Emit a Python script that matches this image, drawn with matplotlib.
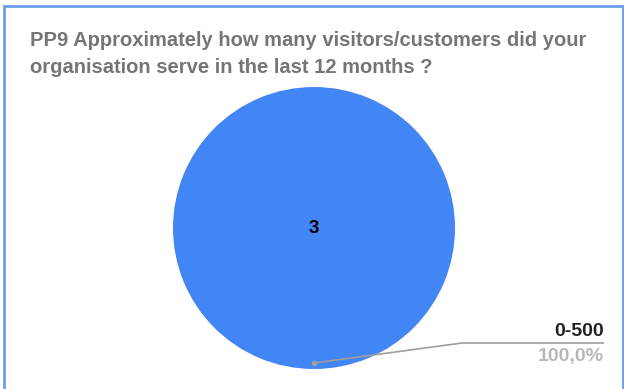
import matplotlib.pyplot as plt
from matplotlib.patches import Rectangle

plt.rcParams['font.family'] = ['Liberation Sans', 'DejaVu Sans']

title = "PP9 Approximately how many visitors/customers did your\norganisation serve in the last 12 months ?"
categories = ["0-500"]
counts = [3]
colors = ["#4285f4"]

W, H = 624, 389
fig = plt.figure(figsize=(W / 100, H / 100), dpi=100)
ax = fig.add_axes([0, 0, 1, 1])

# outer frame of the chart card
ax.add_patch(Rectangle((3.5, -10), W - 4.5, H - 5.5 + 10, fill=False,
                       edgecolor='#6d9eeb', lw=2))

cx, cy, r = 314, H - 228, 141
wedges, _ = ax.pie(counts, colors=colors, center=(cx, cy), radius=r,
                   startangle=90, counterclock=False, frame=True)
ax.set_xlim(0, W)
ax.set_ylim(0, H)
ax.set_aspect('auto')
ax.axis('off')

total = sum(counts)
ax.text(cx, cy, str(counts[0]), ha='center', va='center',
        fontsize=13.5, fontweight='bold', color='black')

ax.text(30, H - 31, title, ha='left', va='top', fontsize=14.5,
        fontweight='bold', color='#757575', linespacing=1.55)

# leader line to the slice label
px, py = cx, H - 363
ax.plot([px, 462, 604], [py, H - 343, H - 343], color='#9e9e9e', lw=1.2,
        solid_capstyle='butt')
ax.plot([px], [py], 'o', color='#9e9e9e', ms=3)
ax.text(604, H - 331, categories[0], ha='right', va='center', fontsize=14,
        fontweight='bold', color='#212121')
ax.text(604, H - 357, f"{counts[0] / total * 100:.1f}%".replace('.', ','),
        ha='right', va='center', fontsize=14, fontweight='bold', color='#b7b7b7')

fig.savefig('out.png', dpi=100)
